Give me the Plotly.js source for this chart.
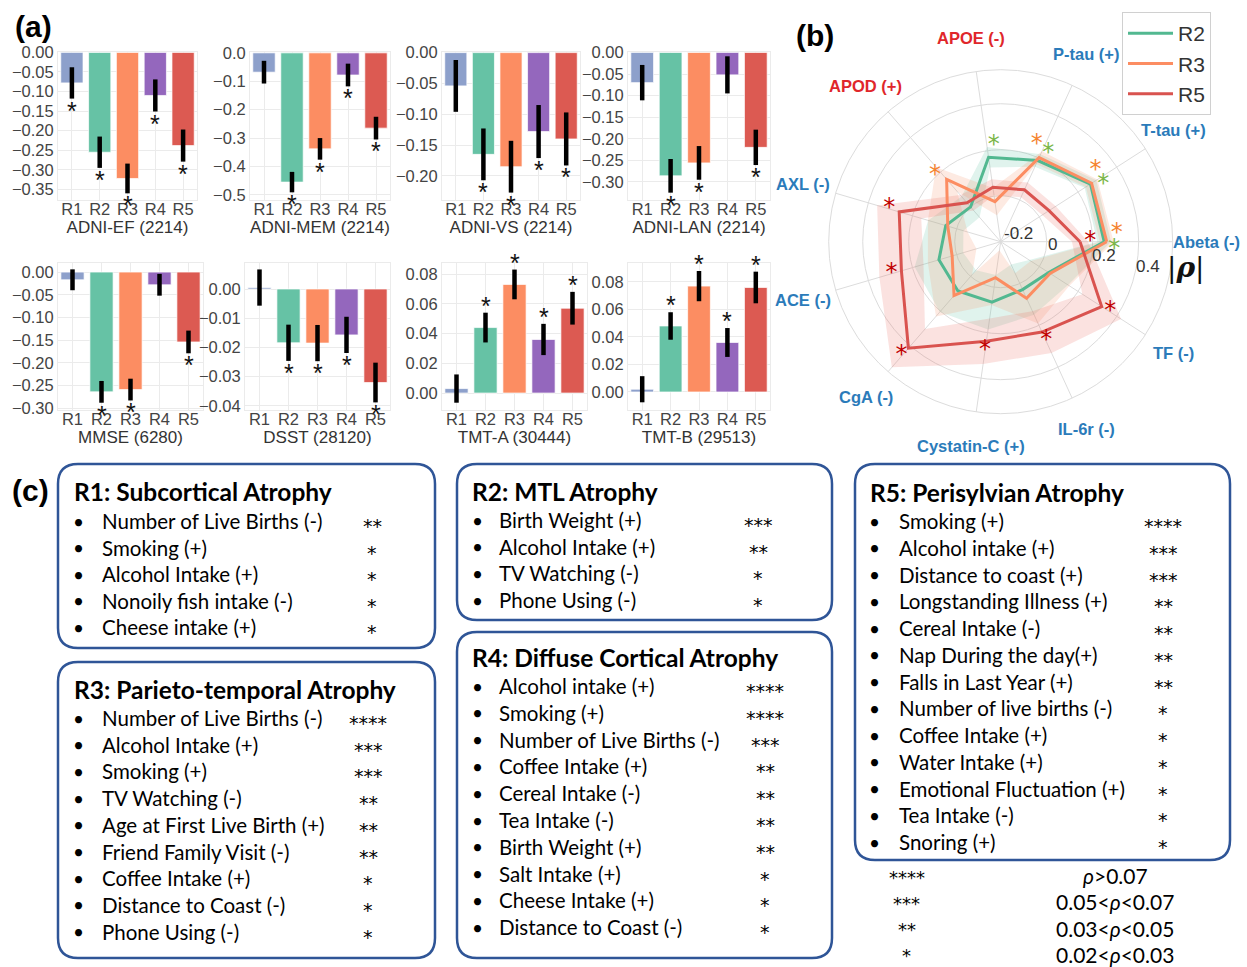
<!DOCTYPE html>
<html><head><meta charset="utf-8">
<script src="https://cdn.plot.ly/plotly-3.0.1.min.js"></script>
<style>html,body{margin:0;padding:0;background:#fff}</style>
</head><body><div id="chart" style="width:1247px;height:967px"></div>
<script>
// ---------------- DATA ----------------
const regions = ['R1','R2','R3','R4','R5'];
const regionColors = ['#8da0cb','#66c2a5','#fc8d62','#9467bd','#dc5a52'];

const efVals   = [-0.078,-0.255,-0.322,-0.110,-0.238];
const efErr    = [0.040,0.040,0.038,0.041,0.041];
const efSig    = [1,1,1,1,1];
const memVals  = [-0.068,-0.455,-0.338,-0.078,-0.265];
const memErr   = [0.040,0.036,0.038,0.040,0.040];
const memSig   = [0,1,1,1,1];
const vsVals   = [-0.054,-0.165,-0.185,-0.128,-0.140];
const vsErr    = [0.042,0.042,0.042,0.043,0.043];
const vsSig    = [0,1,1,1,1];
const lanVals  = [-0.070,-0.286,-0.256,-0.052,-0.220];
const lanErr   = [0.041,0.039,0.039,0.043,0.041];
const lanSig   = [0,1,1,0,1];
const mmseVals = [-0.017,-0.264,-0.259,-0.028,-0.154];
const mmseErr  = [0.023,0.024,0.024,0.024,0.025];
const mmseSig  = [0,1,1,0,1];
const dsstVals = [0.0005,-0.0184,-0.0185,-0.0157,-0.0320];
const dsstErr  = [0.0062,0.0062,0.0062,0.0062,0.0068];
const dsstSig  = [0,1,1,1,1];
const tmtaVals = [0.003,0.044,0.073,0.036,0.057];
const tmtaErr  = [0.0095,0.010,0.010,0.0105,0.011];
const tmtaSig  = [0,1,1,1,1];
const tmtbVals = [0.002,0.048,0.077,0.036,0.076];
const tmtbErr  = [0.0095,0.010,0.011,0.0105,0.0115];
const tmtbSig  = [0,1,1,1,1];
const panelTitles = ['ADNI-EF (2214)','ADNI-MEM (2214)','ADNI-VS (2214)','ADNI-LAN (2214)',
                     'MMSE (6280)','DSST (28120)','TMT-A (30444)','TMT-B (29513)'];

// radar (b)
const biomarkers = ['Abeta (-)','T-tau (+)','P-tau (+)','APOE (-)','APOD (+)','AXL (-)','ACE (-)','CgA (-)','Cystatin-C (+)','IL-6r (-)','TF (-)'];
const geneticMarkers = ['APOE (-)','APOD (+)'];
const radarNames = ['R2','R3','R5'];
const r2Rho = [0.250,0.264,0.188,0.171,0.000,0.049,0.080,0.084,0.066,0.029,0.048];
const r3Rho = [0.261,0.270,0.202,-0.024,0.159,0.040,0.020,0.110,-0.042,0.071,0.055];
const r5Rho = [0.145,0.050,0.048,0.039,0.024,0.260,0.250,0.413,0.237,0.232,0.322];
const r2Ci  = [0.030,0.030,0.030,0.045,0.060,0.080,0.110,0.120,0.120,0.120,0.100];
const r3Ci  = [0.030,0.030,0.030,0.060,0.070,0.090,0.110,0.120,0.120,0.120,0.100];
const r5Ci  = [0.035,0.035,0.035,0.035,0.045,0.100,0.100,0.110,0.100,0.100,0.100];
const r2Sig = [1,1,1,1,0,0,0,0,0,0,0];
const r3Sig = [1,1,1,0,1,0,0,0,0,0,0];
const r5Sig = [1,0,0,0,0,1,1,1,1,1,1];
const radialTicks = [-0.2,0,0.2,0.4];

// text panels (c)
const box1Title = 'R1: Subcortical Atrophy';
const box1Items = ['Number of Live Births (-)','Smoking (+)','Alcohol Intake (+)','Nonoily fish intake (-)','Cheese intake (+)'];
const box1Stars = ['**','*','*','*','*'];
const box2Title = 'R2: MTL Atrophy';
const box2Items = ['Birth Weight (+)','Alcohol Intake (+)','TV Watching (-)','Phone Using (-)'];
const box2Stars = ['***','**','*','*'];
const box3Title = 'R3: Parieto-temporal Atrophy';
const box3Items = ['Number of Live Births (-)','Alcohol Intake (+)','Smoking (+)','TV Watching (-)','Age at First Live Birth (+)','Friend Family Visit (-)','Coffee Intake (+)','Distance to Coast (-)','Phone Using (-)'];
const box3Stars = ['****','***','***','**','**','**','*','*','*'];
const box4Title = 'R4: Diffuse Cortical Atrophy';
const box4Items = ['Alcohol intake (+)','Smoking (+)','Number of Live Births (-)','Coffee Intake (+)','Cereal Intake (-)','Tea Intake (-)','Birth Weight (+)','Salt Intake (+)','Cheese Intake (+)','Distance to Coast (-)'];
const box4Stars = ['****','****','***','**','**','**','**','*','*','*'];
const box5Title = 'R5: Perisylvian Atrophy';
const box5Items = ['Smoking (+)','Alcohol intake (+)','Distance to coast (+)','Longstanding Illness (+)','Cereal Intake (-)','Nap During the day(+)','Falls in Last Year (+)','Number of live births (-)','Coffee Intake (+)','Water Intake (+)','Emotional Fluctuation (+)','Tea Intake (-)','Snoring (+)'];
const box5Stars = ['****','***','***','**','**','**','**','*','*','*','*','*','*'];
const keyStars = ['****','***','**','*'];
const keyText  = ['<i>ρ</i>&gt;0.07','0.05&lt;<i>ρ</i>&lt;0.07','0.03&lt;<i>ρ</i>&lt;0.05','0.02&lt;<i>ρ</i>&lt;0.03'];

// ---------------- LAYOUT HELPERS ----------------
const W = 1247, H = 967;
const px = x => x / W;
const py = y => 1 - y / H;

const panelData = [
  [efVals,efErr,efSig],[memVals,memErr,memSig],[vsVals,vsErr,vsSig],[lanVals,lanErr,lanSig],
  [mmseVals,mmseErr,mmseSig],[dsstVals,dsstErr,dsstSig],[tmtaVals,tmtaErr,tmtaSig],[tmtbVals,tmtbErr,tmtbSig]
];
const panelRects = [[58,197,52,200],[250,390,52,200],[442,580,52,200],[628,770,52,200],
                    [58,203,263,410],[245,390,263,410],[442,587,263,410],[628,770,263,410]];
const panelRanges = [[-0.377,0.001],[-0.518,0.003],[-0.239,0.001],[-0.342,0.001],
                     [-0.304,0.020],[-0.0414,0.0089],[-0.0114,0.0874],[-0.0131,0.0938]];
const panelDtick = [0.05,0.1,0.05,0.05,0.05,0.01,0.02,0.02];
const panelFmt = ['.2f','.1f','.2f','.2f','.2f','.2f','.2f','.2f'];

const traces = [];
const layout = {
  width: W, height: H, margin:{l:0,r:0,t:0,b:0},
  paper_bgcolor:'#fff', plot_bgcolor:'#fff',
  font:{family:'Liberation Sans, Arial, sans-serif', color:'#333'},
  showlegend:true, annotations:[], shapes:[]
};
const ann = o => layout.annotations.push(Object.assign({showarrow:false, xanchor:'center', yanchor:'middle'}, o));

panelData.forEach((pd, i) => {
  const [vals, err, sig] = pd;
  const k = i + 1;
  const xa = 'x' + (k === 1 ? '' : k), ya = 'y' + (k === 1 ? '' : k);
  const r = panelRects[i];
  traces.push({
    type:'bar', x: regions, y: vals, xaxis: xa, yaxis: ya, showlegend:false,
    marker:{color: regionColors, line:{color:'rgba(255,255,255,0.7)', width:1}},
    error_y:{type:'data', array: err, visible:true, thickness:4.5, width:0, color:'#000'},
    hoverinfo:'skip'
  });
  vals.forEach((v, j) => {
    if (!sig[j]) return;
    const neg = v < 0;
    ann({xref: xa, yref: ya, x: regions[j], y: neg ? v - err[j] : v + err[j], text:'*',
      yanchor: neg ? 'top' : 'bottom', yshift: neg ? 4 : -9,
      font:{size:25, color:'#111', family:'Liberation Sans, Arial'}});
  });
  layout['xaxis' + (k === 1 ? '' : k)] = {
    domain:[px(r[0]), px(r[1])], anchor: ya,
    showgrid:true, gridcolor:'#ebebeb', zeroline:false,
    showline:true, linecolor:'#ebebeb', mirror:true, ticks:'', ticklabelstandoff:-6,
    tickfont:{size:16.5, color:'#444'},
    title:{text: panelTitles[i], font:{size:17, color:'#333'}, standoff:0}
  };
  layout['yaxis' + (k === 1 ? '' : k)] = {
    domain:[py(r[3]), py(r[2])], anchor: xa,
    range: panelRanges[i], dtick: panelDtick[i], tick0:0, tickformat: panelFmt[i],
    showgrid:true, gridcolor:'#ebebeb', zeroline:false,
    showline:true, linecolor:'#ebebeb', mirror:true, ticks:'',
    tickfont:{size:16.5, color:'#444'}
  };
});

// ---------------- RADAR ----------------
const cx = 1000.7, cy = 241.7, rad = 172;
const rRange = [-0.2, 0.548];
const n = biomarkers.length;
const thetaDeg = biomarkers.map((b, i) => i * 360 / n);
layout.polar = {
  domain:{x:[px(cx-rad), px(cx+rad)], y:[py(cy+rad), py(cy-rad)]},
  bgcolor:'#fff',
  radialaxis:{range: rRange, tickvals: radialTicks, showticklabels:false,
    angle:-10, showline:false, ticks:'', gridcolor:'#dcdcdc', gridwidth:1},
  angularaxis:{type:'linear', thetaunit:'degrees', rotation:0, direction:'counterclockwise',
    tickmode:'array', tickvals: thetaDeg, gridcolor:'#dcdcdc',
    linecolor:'#dcdcdc', linewidth:1, showticklabels:false, ticks:''}
};
const radarSeries = [
  {rho:r2Rho, ci:r2Ci, sig:r2Sig, line:'#52b890', band:'rgba(102,194,165,0.20)', star:'#7ab648', starShift:-4},
  {rho:r3Rho, ci:r3Ci, sig:r3Sig, line:'#fc8d62', band:'rgba(245,150,110,0.20)', star:'#f5842f', starShift:4},
  {rho:r5Rho, ci:r5Ci, sig:r5Sig, line:'#d9534f', band:'rgba(235,110,100,0.20)', star:'#c00000', starShift:0}
];
radarSeries.forEach(s => {
  const hi = s.rho.map((v, i) => v + s.ci[i]);
  const lo = s.rho.map((v, i) => Math.max(rRange[0], v - s.ci[i]));
  const th = [], rr = [];
  for (let i = 0; i < n; i++) { th.push(thetaDeg[i]); rr.push(hi[i]); }
  th.push(thetaDeg[0] + 360); rr.push(hi[0]);
  th.push(thetaDeg[0] + 360); rr.push(lo[0]);
  for (let i = n - 1; i >= 0; i--) { th.push(thetaDeg[i]); rr.push(lo[i]); }
  traces.push({type:'scatterpolar', r: rr, theta: th, mode:'lines', fill:'toself',
    fillcolor: s.band, line:{width:0, color:'rgba(0,0,0,0)'}, showlegend:false, hoverinfo:'skip'});
});
radarSeries.forEach((s, k) => {
  traces.push({type:'scatterpolar', r: s.rho.concat([s.rho[0]]), theta: thetaDeg.concat([360]),
    mode:'lines', line:{color: s.line, width:3}, name: radarNames[k], showlegend:true});
});
radarSeries.forEach(s => {
  const rr = [], th = [];
  s.rho.forEach((v, i) => { if (s.sig[i]) { rr.push(v + 0.045); th.push(thetaDeg[i] + s.starShift); } });
  traces.push({type:'scatterpolar', mode:'text', r: rr, theta: th, text: rr.map(() => '*'),
    textposition:'middle center', textfont:{size:24, color: s.star, family:'DejaVu Sans'},
    showlegend:false, hoverinfo:'skip', cliponaxis:false});
});
layout.legend = {x: px(1122), y: py(12), xanchor:'left', yanchor:'top',
  bordercolor:'#d0d0d0', borderwidth:1, bgcolor:'#fff', font:{size:21, color:'#333'},
  itemwidth:45, tracegroupgap:4};

// radial tick labels (left-aligned next to each ring)
const rPx = v => (v - rRange[0]) / (rRange[1] - rRange[0]) * rad;
radialTicks.forEach(v => {
  ann({xref:'paper', yref:'paper', x: px(cx + 1 + rPx(v) * 0.96), y: py(cy - 8.7 + rPx(v) * 0.245),
    xanchor:'left', text: String(v), font:{size:17, color:'#333'}});
});
// angular labels
const labelR = 206;
biomarkers.forEach((b, i) => {
  const a = thetaDeg[i] * Math.PI / 180;
  ann({xref:'paper', yref:'paper', x: px(cx + labelR * Math.cos(a)), y: py(cy - labelR * Math.sin(a)),
    text:'<b>' + b + '</b>',
    font:{size:16.5, color: geneticMarkers.includes(b) ? '#e0262b' : '#2b7bba', family:'Liberation Sans, Arial'}});
});
ann({xref:'paper', yref:'paper', x: px(1186), y: py(268), text:'|<b><i>ρ</i></b>|',
  font:{size:28, color:'#111', family:'DejaVu Serif, serif'}});

// panel labels
[['(a)',33,26],['(b)',815,35],['(c)',30,490]].forEach(p => {
  ann({xref:'paper', yref:'paper', x: px(p[1]), y: py(p[2]), text:'<b>' + p[0] + '</b>',
    font:{size:30, color:'#000', family:'Liberation Sans, Arial'}});
});

// ---------------- TEXT BOXES ----------------
function roundRect(x0, y0, x1, y1, rr) {
  const X = px, Y = py;
  return `M ${X(x0+rr)},${Y(y0)} L ${X(x1-rr)},${Y(y0)} Q ${X(x1)},${Y(y0)} ${X(x1)},${Y(y0+rr)} ` +
    `L ${X(x1)},${Y(y1-rr)} Q ${X(x1)},${Y(y1)} ${X(x1-rr)},${Y(y1)} L ${X(x0+rr)},${Y(y1)} ` +
    `Q ${X(x0)},${Y(y1)} ${X(x0)},${Y(y1-rr)} L ${X(x0)},${Y(y0+rr)} Q ${X(x0)},${Y(y0)} ${X(x0+rr)},${Y(y0)} Z`;
}
const boxFont = 'Lato, Open Sans, sans-serif';
const starFont = 'DejaVu Sans, sans-serif';
const boxes = [
  {title:box1Title, items:box1Items, stars:box1Stars, rect:[58,464,435,648], tx:72, ty:491, y0:521, dy:26.6, bx:78, ix:100, sx:372},
  {title:box2Title, items:box2Items, stars:box2Stars, rect:[457,464,832,620], tx:470, ty:491, y0:520, dy:26.7, bx:477, ix:497, sx:758},
  {title:box3Title, items:box3Items, stars:box3Stars, rect:[58,662,435,958], tx:72, ty:689, y0:718, dy:26.7, bx:78, ix:100, sx:368},
  {title:box4Title, items:box4Items, stars:box4Stars, rect:[457,632,832,958], tx:470, ty:657, y0:686, dy:26.8, bx:477, ix:497, sx:765},
  {title:box5Title, items:box5Items, stars:box5Stars, rect:[855,464,1230,860], tx:868, ty:492, y0:521, dy:26.75, bx:875, ix:897, sx:1163}
];
boxes.forEach(b => {
  layout.shapes.push({type:'path', xref:'paper', yref:'paper', path: roundRect(b.rect[0], b.rect[1], b.rect[2], b.rect[3], 20),
    line:{color:'#2f5597', width:2.5}, fillcolor:'rgba(0,0,0,0)'});
  ann({xref:'paper', yref:'paper', x: px(b.tx), y: py(b.ty), xanchor:'left',
    text:'<b>' + b.title + '</b>', font:{size:24.5, color:'#000', family: boxFont}});
  b.items.forEach((it, j) => {
    const yy = b.y0 + j * b.dy;
    ann({xref:'paper', yref:'paper', x: px(b.bx), y: py(yy), text:'•', font:{size:19, color:'#000', family: boxFont}});
    ann({xref:'paper', yref:'paper', x: px(b.ix), y: py(yy), xanchor:'left', text: it,
      font:{size:20.5, color:'#000', family: boxFont}});
    ann({xref:'paper', yref:'paper', x: px(b.sx), y: py(yy + 5), text: b.stars[j],
      font:{size:19, color:'#000', family: starFont}});
  });
});
keyStars.forEach((s, j) => {
  ann({xref:'paper', yref:'paper', x: px(907), y: py(877 + j * 26.3), text: s,
    font:{size:18, color:'#000', family: starFont}});
  ann({xref:'paper', yref:'paper', x: px(1115), y: py(875 + j * 26.5), text: keyText[j],
    font:{size:21, color:'#000', family: boxFont}});
});

Plotly.newPlot('chart', traces, layout, {displayModeBar:false, staticPlot:true});
</script></body></html>
